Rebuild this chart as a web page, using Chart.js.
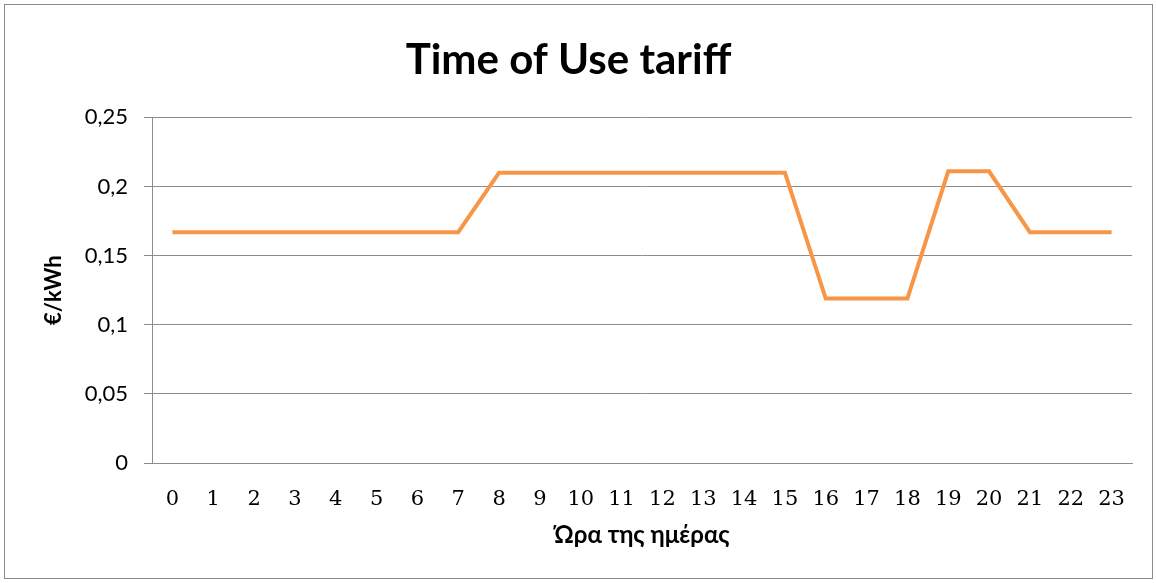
<!DOCTYPE html>
<html>
<head>
<meta charset="utf-8">
<script src="https://cdn.jsdelivr.net/npm/chart.js@4"></script>
<style>
  html, body { margin: 0; padding: 0; background: #fff; }
  #wrap { position: absolute; left: 4px; top: 4px; width: 1147px; height: 573px; border: 1px solid #8a8a8a; }
  #chart { position: absolute; left: 0; top: 0; }
</style>
</head>
<body>
<div id="wrap"><canvas id="chart" width="1147" height="573"></canvas></div>
<script>
// Ώρα της ημέρας
const hours = ['0','1','2','3','4','5','6','7','8','9','10','11','12','13','14','15','16','17','18','19','20','21','22','23'];
// τιμή €/kWh
const tariff = [0.167,0.167,0.167,0.167,0.167,0.167,0.167,0.167,
                0.21,0.21,0.21,0.21,0.21,0.21,0.21,0.21,
                0.119,0.119,0.119,0.211,0.211,0.167,0.167,0.167];
const yTickLabels = ['0','0,05','0,1','0,15','0,2','0,25'];

const gridColor = '#8c8c8c';

const ctx = document.getElementById('chart').getContext('2d');
new Chart(ctx, {
    type: 'line',
    data: {
        labels: hours,
        datasets: [{
            label: 'Time of Use',
            data: tariff,
            borderColor: '#f79646',
            borderWidth: 4,
            pointRadius: 0,
            tension: 0,
            fill: false
        }]
    },
    options: {
        responsive: false,
        animation: false,
        layout: { padding: { left: 0, right: 20, top: 0, bottom: 0 } },
        plugins: {
            legend: { display: false },
            tooltip: { enabled: false },
            title: {
                display: true,
                text: 'Time of Use tariff',
                color: '#000',
                font: { family: 'Lato', size: 42, weight: 'bold' },
                padding: { top: 30, bottom: 32 }
            }
        },
        scales: {
            x: {
                offset: true,
                afterFit: s => { s.height = 115; },
                grid: { display: false },
                border: { display: true, color: gridColor, width: 1 },
                ticks: {
                    color: '#000',
                    font: { family: 'DejaVu Serif', size: 21 },
                    maxRotation: 0,
                    autoSkip: false,
                    padding: 16
                },
                title: {
                    display: true,
                    text: 'Ώρα της ημέρας',
                    color: '#000',
                    font: { family: 'Lato', size: 24, weight: 'bold' },
                    padding: { top: 0, bottom: 28 }
                }
            },
            y: {
                min: 0,
                max: 0.25,
                afterFit: s => { s.width = 147; },
                ticks: {
                    stepSize: 0.05,
                    color: '#000',
                    font: { family: 'Lato', size: 22 },
                    padding: 16,
                    callback: (v, i) => yTickLabels[i]
                },
                grid: {
                    color: gridColor,
                    tickColor: gridColor,
                    tickLength: 8,
                    lineWidth: 1
                },
                border: { display: true, color: gridColor, width: 1 },
                title: {
                    display: true,
                    text: '€/kWh',
                    color: '#000',
                    font: { family: 'Lato', size: 22, weight: 'bold' },
                    padding: { top: 36, bottom: 0 }
                }
            }
        }
    }
});
</script>
</body>
</html>
